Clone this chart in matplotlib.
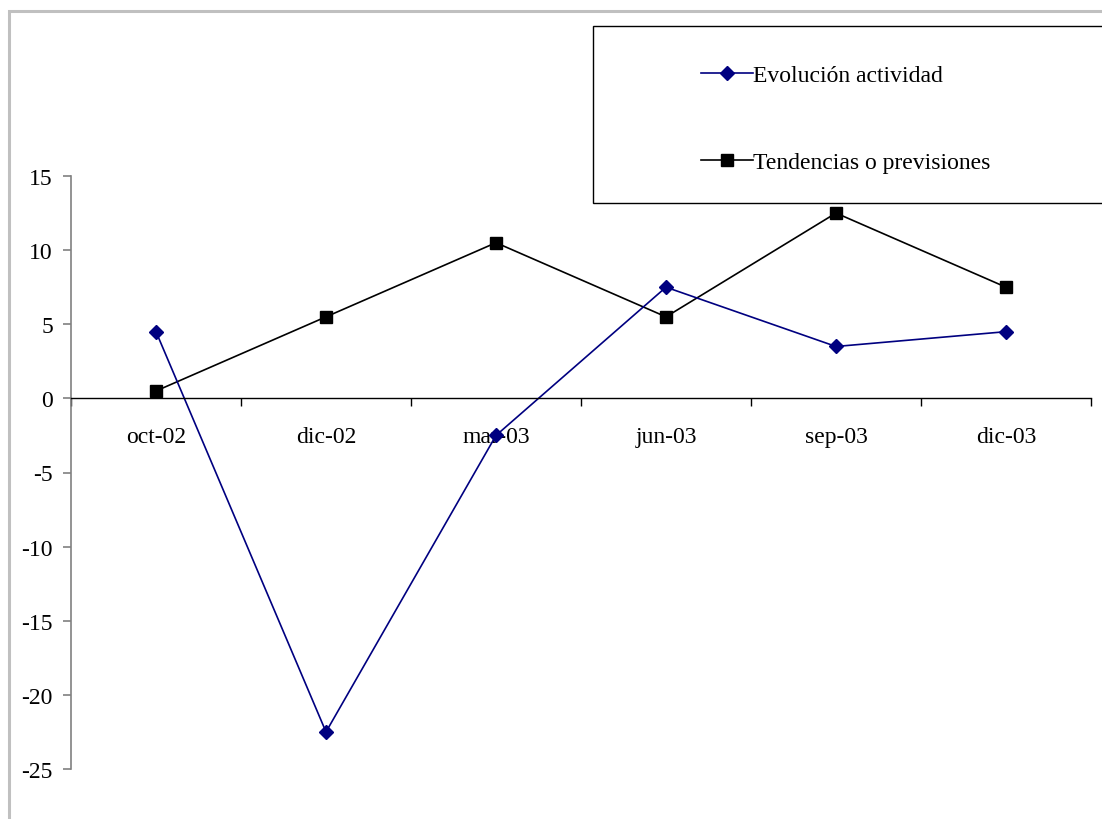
import matplotlib
matplotlib.use('Agg')
import matplotlib.pyplot as plt
import numpy as np
from matplotlib.patches import Rectangle

# datos
periodos = ['oct-02', 'dic-02', 'mar-03', 'jun-03', 'sep-03', 'dic-03']
evolucion = [4.5, -22.5, -2.5, 7.5, 3.5, 4.5]
tendencias = [0.5, 5.5, 10.5, 5.5, 12.5, 7.5]
yticks = [-25, -20, -15, -10, -5, 0, 5, 10, 15]

plt.rcParams['font.family'] = ['Liberation Serif', 'DejaVu Serif']
plt.rcParams['font.size'] = 17

fig = plt.figure(figsize=(11.02, 8.2), dpi=100)

# borde exterior gris (solo se ven izquierda y arriba)
fig.patches.append(Rectangle((9/1102, -0.2), 1.2, 1.2 - 12/820, transform=fig.transFigure,
                             fill=False, edgecolor='#c0c0c0', linewidth=2.2, zorder=0))

ax = fig.add_axes([71/1102, 1 - 770/820, (1091-71)/1102, 593/820])
x = np.arange(len(periodos))

l2, = ax.plot(x, tendencias, color='black', lw=1.2, marker='s', markersize=8.5,
              label='Tendencias o previsiones')
l1, = ax.plot(x, evolucion, color='#000080', lw=1.2, marker='D', markersize=7.2,
              label=u'Evolución actividad')

ax.set_xlim(-0.5, len(periodos) - 0.5)
ax.set_ylim(-25, 15)
ax.set_yticks(yticks)
ax.set_yticklabels([str(v) for v in yticks])

ax.spines['top'].set_visible(False)
ax.spines['right'].set_visible(False)
ax.spines['left'].set_color('#808080')
ax.spines['left'].set_linewidth(1.2)
ax.spines['bottom'].set_position(('data', 0))
ax.spines['bottom'].set_linewidth(1.0)

ax.set_xticks(np.arange(-0.5, len(periodos)))
ax.set_xticklabels([])
ax.set_xticks(x, minor=True)
ax.set_xticklabels(periodos, minor=True)
ax.tick_params(axis='x', which='major', direction='out', length=6, width=1, colors='black')
ax.tick_params(axis='x', which='minor', length=0, pad=20)
ax.tick_params(axis='y', direction='out', length=6, width=1.2, color='#808080', pad=7,
               labelcolor='black')

# leyenda
fig.patches.append(Rectangle((593/1102, 1 - 204/820), 1.0, 177/820, transform=fig.transFigure,
                             fill=True, facecolor='white', edgecolor='black', linewidth=1.0,
                             zorder=5))
leg = fig.legend(handles=[l1, l2], loc='upper left', bbox_to_anchor=(680/1102, 1 - 44/820),
                 frameon=False, handlelength=2.2, handletextpad=0.0, labelspacing=2.8,
                 fontsize=17)
leg.set_zorder(6)

fig.savefig('out.png', dpi=100)
